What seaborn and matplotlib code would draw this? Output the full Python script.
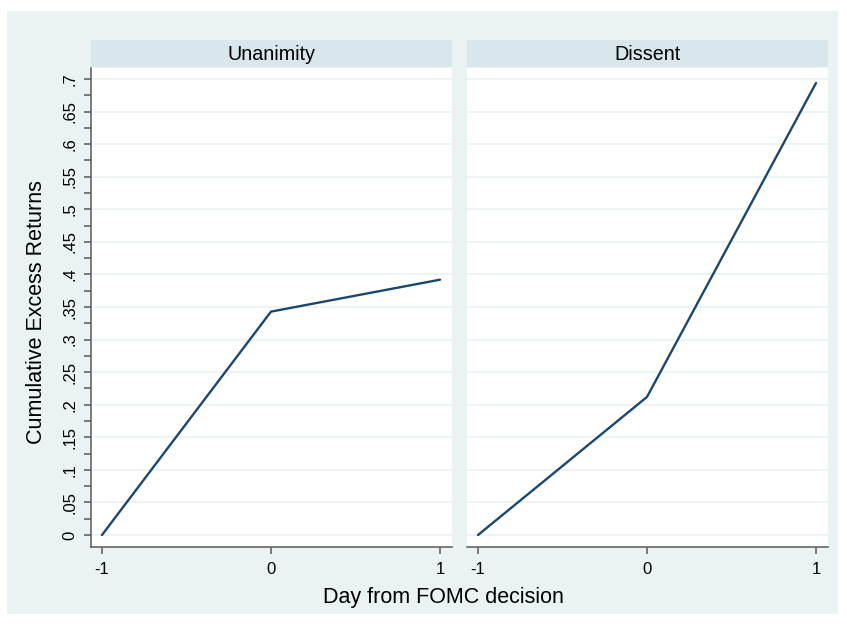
import numpy as np
import pandas as pd
import matplotlib
matplotlib.use("Agg")
import matplotlib.pyplot as plt
import seaborn as sns
from matplotlib.patches import Rectangle

# ---- data ----
days = [-1, 0, 1]
unanimity = [0.0, 0.343, 0.392]
dissent = [0.0, 0.212, 0.694]
panels = ["Unanimity", "Dissent"]
ytick_vals = [0, 0.05, 0.1, 0.15, 0.2, 0.25, 0.3, 0.35, 0.4, 0.45, 0.5, 0.55, 0.6, 0.65, 0.7]
ytick_labels = ["0", ".05", ".1", ".15", ".2", ".25", ".3", ".35", ".4", ".45", ".5", ".55", ".6", ".65", ".7"]
xtick_labels = ["-1", "0", "1"]
x_title = "Day from FOMC decision"
y_title = "Cumulative Excess Returns"

df = pd.DataFrame({
    "day": days * 2,
    "ret": unanimity + dissent,
    "panel": [panels[0]] * len(days) + [panels[1]] * len(days),
})

sns.set_style("white")
plt.rcParams['font.family'] = ['Liberation Sans', 'DejaVu Sans']
plt.rcParams['text.color'] = 'black'
plt.rcParams['xtick.color'] = 'black'
plt.rcParams['ytick.color'] = 'black'
plt.rcParams['axes.labelcolor'] = 'black'

W, H = 847, 624
fig = plt.figure(figsize=(W / 100, H / 100), dpi=100)
fig.patch.set_facecolor("white")
fig.patches.append(Rectangle((7 / W, 1 - 614 / H), (838 - 7) / W, (614 - 11) / H,
                             transform=fig.transFigure, facecolor="#eaf2f3",
                             edgecolor="none", zorder=-10))


def box(x0, y0, x1, y1):
    return [x0 / W, 1 - y1 / H, (x1 - x0) / W, (y1 - y0) / H]


line_color = "#1a476f"
spine_color = "#5a5a5a"
minor_vals = [v + 0.025 for v in ytick_vals[:-1]]

panel_x = [(91, 452), (467, 828)]
for i, (p, (x0, x1)) in enumerate(zip(panels, panel_x)):
    ax = fig.add_axes(box(x0, 68, x1, 547))
    ax.set_facecolor("white")
    sns.lineplot(data=df[df["panel"] == p], x="day", y="ret", ax=ax,
                 color=line_color, lw=1.7, legend=False)
    ax.set_xlim(-1.065, 1.071)
    ax.set_ylim(-0.0184, 0.717)
    ax.set_xlabel("")
    ax.set_ylabel("")
    ax.set_xticks(days, xtick_labels)
    ax.set_yticks(ytick_vals, ytick_labels)
    ax.set_yticks(minor_vals, minor=True)
    ax.set_axisbelow(True)
    ax.yaxis.grid(True, which="major", color="#eaf2f3", lw=1.2)
    ax.xaxis.grid(False)
    for s in ["top", "right"]:
        ax.spines[s].set_visible(False)
    ax.spines["bottom"].set_color(spine_color)
    ax.spines["bottom"].set_linewidth(1.1)
    ax.tick_params(axis="x", which="both", direction="out", length=5, width=1.1,
                   color=spine_color, labelcolor="black", labelsize=12, pad=6, bottom=True)
    if i == 0:
        ax.spines["left"].set_color(spine_color)
        ax.spines["left"].set_linewidth(1.1)
        ax.tick_params(axis="y", which="both", direction="out", length=5, width=1.1,
                       color=spine_color, labelcolor="black", labelsize=12, pad=5, left=True)
        for lab in ax.get_yticklabels():
            lab.set_rotation(90)
            lab.set_va("center")
    else:
        ax.spines["left"].set_visible(False)
        ax.tick_params(axis="y", which="both", left=False, labelleft=False)

    hax = fig.add_axes(box(x0, 40, x1, 67))
    hax.set_facecolor("#d9e6eb")
    for s in hax.spines.values():
        s.set_visible(False)
    hax.set_xticks([])
    hax.set_yticks([])
    hax.text(0.5, 0.48, p, ha="center", va="center", fontsize=14.2, color="black",
             transform=hax.transAxes)

fig.text(443 / W, 1 - 597 / H, x_title, ha="center", va="center", fontsize=15.5, color="black")
fig.text(37 / W, 1 - 312 / H, y_title, ha="center", va="center", fontsize=15.5,
         rotation=90, color="black")

fig.savefig("out.png", dpi=100, facecolor="white")
